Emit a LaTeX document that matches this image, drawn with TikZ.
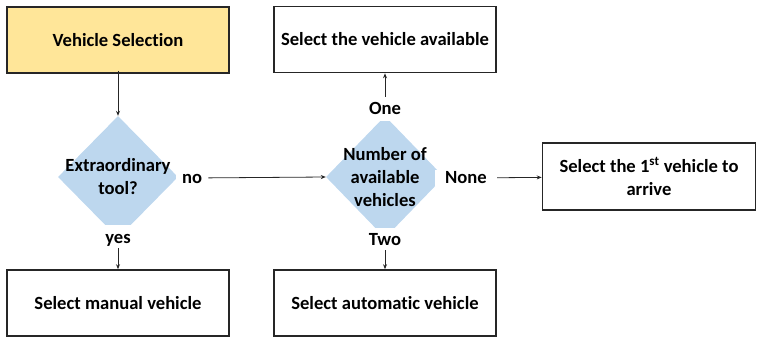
\documentclass[tikz,border=0pt]{standalone}
\usepackage{fontspec}
\setmainfont{Carlito}[Ligatures=CommonOff]
\usetikzlibrary{shapes.geometric,arrows.meta}
\definecolor{boxyellow}{HTML}{FFE699}
\definecolor{decblue}{HTML}{BDD7EE}
\definecolor{edge}{HTML}{262626}
\tikzset{
  stepbox/.style={draw=edge, line width=1.6pt, rectangle, minimum width=222pt,
    minimum height=66pt, align=center, inner sep=2pt},
  decision/.style={diamond, fill=decblue, draw=none, inner sep=0pt,
    minimum width=#1, minimum height=122pt},
  answer/.style={fill=white, inner sep=0pt, text height=13pt, text depth=3pt},
  conn/.style={draw=edge, line width=0.8pt, -{Stealth[length=5pt,width=4pt]}},
}
\begin{document}
\begin{tikzpicture}[x=1pt,y=-1pt,font=\bfseries\fontsize{18.6}{23}\selectfont]
\useasboundingbox (0,0) rectangle (757,337);

% process boxes
\node[stepbox, fill=boxyellow] (vs) at (118,40) {Vehicle Selection};
\node[stepbox] (avail) at (385,39.5) {Select the vehicle available};
\node[stepbox, minimum width=213pt, minimum height=67pt] (first) at (649,176.5)
  {Select the 1\textsuperscript{st} vehicle to\\arrive};
\node[stepbox] (manual) at (118,303) {Select manual vehicle};
\node[stepbox] (auto) at (385,303) {Select automatic vehicle};

% decisions
\node[decision=120pt, label={[align=center]center:Extraordinary\\tool?}] (d1) at (118,177) {};
\node[decision=118pt, label={[align=center]center:Number of\\available\\vehicles}] (d2) at (385,177) {};

% answer labels (their white background trims the diamond tips)
\node[answer, inner xsep=6pt, anchor=west] (no) at (176,178) {no};
\node[answer, inner ysep=5pt, minimum width=60pt] (yes) at (118,238) {yes};
\node[answer, inner ysep=4pt, minimum width=60pt] (one) at (385,109) {One};
\node[answer, inner xsep=10pt, anchor=west] (none) at (435,178) {None};
\node[answer, inner ysep=4pt, minimum width=60pt] (two) at (385,240) {Two};

% connectors
\draw[conn, shorten <=-3pt] (vs) -- (d1.north);
\draw[conn, shorten <=-3pt] (yes) -- (manual);
\draw[conn] (no) -- (d2.west);
\draw[conn] (one) -- (avail);
\draw[conn] (none) -- (first);
\draw[conn, shorten <=-2pt] (two) -- (auto);
\end{tikzpicture}
\end{document}
